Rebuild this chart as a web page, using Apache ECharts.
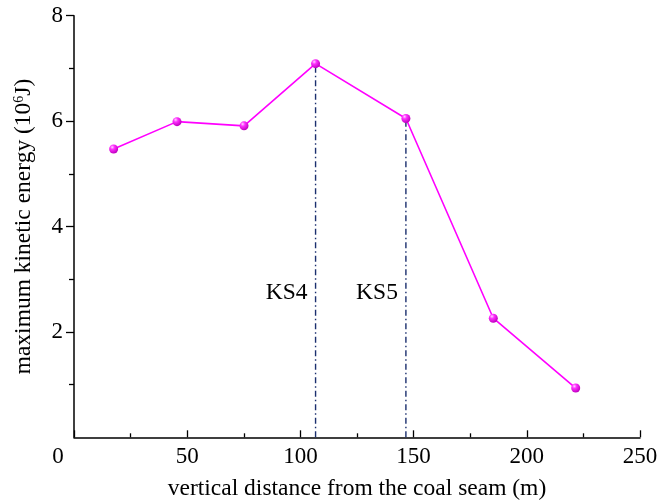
<!DOCTYPE html>
<html>
<head>
<meta charset="utf-8">
<script src="https://cdn.jsdelivr.net/npm/echarts@6/dist/echarts.min.js"></script>
<style>html,body{margin:0;padding:0;background:#fff;}#c{width:659px;height:502px;}</style>
</head>
<body>
<div id="c"></div>
<script>
const distances = [17.5, 45.5, 75.1, 106.7, 146.6, 185.2, 221.6];
const energies = [5.47, 5.99, 5.91, 7.09, 6.05, 2.26, 0.935];
const keyStrata = ['KS4', 'KS5'];
const keyStrataX = [106.7, 146.6];
const keyStrataTop = [7.09, 6.05];
const keyLabelY = [2.74, 2.74];
const xTicks = [0, 50, 100, 150, 200, 250];
const yTicks = [0, 2, 4, 6, 8];

const FONT = '"Liberation Serif", "Times New Roman", serif';
const chart = echarts.init(document.getElementById('c'));

const ball = new echarts.graphic.RadialGradient(0.35, 0.3, 0.7, [
  {offset: 0, color: '#ffd6ff'},
  {offset: 0.35, color: '#ff30ff'},
  {offset: 1, color: '#c000c0'}
]);

const vLines = keyStrata.map((n, i) => ({
  type: 'line',
  data: [[keyStrataX[i], 0], [keyStrataX[i], keyStrataTop[i]]],
  symbol: 'none',
  lineStyle: {color: '#1b2f6e', width: 1.4, type: [6, 3, 1.5, 3]},
  z: 1,
  silent: true
}));

chart.setOption({
  animation: false,
  backgroundColor: '#fff',
  textStyle: {fontFamily: FONT},
  grid: {left: 74, right: 19, top: 15.7, bottom: 64.7, containLabel: false, outerBoundsMode: 'none'},
  xAxis: {
    type: 'value', min: xTicks[0], max: xTicks[xTicks.length - 1], interval: 50,
    name: 'vertical distance from the coal seam (m)',
    nameLocation: 'middle', nameGap: 40,
    nameTextStyle: {fontFamily: FONT, fontSize: 23.5, color: '#000'},
    axisLine: {show: true, lineStyle: {color: '#000', width: 1.5}},
    axisTick: {show: true, inside: true, length: 7, lineStyle: {color: '#000', width: 1.3}},
    minorTick: {show: true, splitNumber: 2, length: 4, lineStyle: {color: '#000', width: 1.3}},
    splitLine: {show: false},
    axisLabel: {
      fontFamily: FONT, fontSize: 23, color: '#000', margin: 8,
      formatter: v => v === 0 ? '{z|0}' : String(v),
      rich: {z: {fontFamily: FONT, fontSize: 23, color: '#000', padding: [0, 32, 0, 0]}}
    }
  },
  yAxis: {
    type: 'value', min: yTicks[0], max: yTicks[yTicks.length - 1], interval: 2,
    name: 'maximum kinetic energy (10{sup|6}J)',
    nameLocation: 'middle', nameGap: 38,
    nameTextStyle: {fontFamily: FONT, fontSize: 23.5, color: '#000',
      rich: {sup: {fontFamily: FONT, fontSize: 14, color: '#000', verticalAlign: 'top', padding: [0, 0, 10, 0]}}},
    axisLine: {show: true, lineStyle: {color: '#000', width: 1.5}},
    axisTick: {show: true, inside: false, length: 8, customValues: yTicks.slice(1), lineStyle: {color: '#000', width: 1.3}},
    minorTick: {show: true, splitNumber: 2, length: 5, lineStyle: {color: '#000', width: 1.3}},
    splitLine: {show: false},
    axisLabel: {fontFamily: FONT, fontSize: 23, color: '#000', margin: 11, customValues: yTicks.slice(1)}
  },
  series: [
    ...vLines,
    {
      type: 'scatter',
      data: keyStrata.map((n, i) => ({value: [keyStrataX[i], keyLabelY[i]], name: n})),
      symbolSize: 0,
      itemStyle: {opacity: 1},
      label: {show: true, position: 'left', distance: 8, formatter: p => p.name,
        fontFamily: FONT, fontSize: 23.5, color: '#000', opacity: 1},
      silent: true,
      z: 3
    },
    {
      type: 'line',
      data: distances.map((d, i) => [d, energies[i]]),
      symbol: 'circle', symbolSize: 9,
      lineStyle: {color: '#ff00ff', width: 1.6},
      itemStyle: {color: ball, borderWidth: 0},
      z: 5
    }
  ]
});
</script>
</body>
</html>
